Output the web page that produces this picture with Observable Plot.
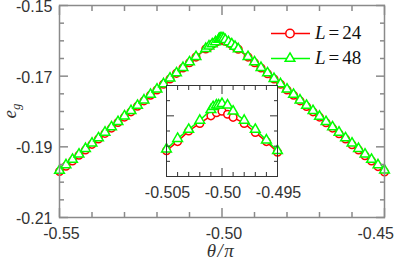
<!DOCTYPE html>
<html><head><meta charset="utf-8">
<script src="https://cdn.jsdelivr.net/npm/d3@7"></script>
<script src="https://cdn.jsdelivr.net/npm/@observablehq/plot@0.6"></script>
<style>
html,body{margin:0;padding:0;background:#fff;}
#wrap{position:relative;width:394px;height:265px;overflow:hidden;background:#fff;}
#inset{position:absolute;left:136px;top:80px;}
svg{overflow:visible;}
</style></head><body><div id="wrap"><div id="main"></div><div id="inset"></div></div>
<script>
// ---- data (theta/pi and ground-state energy e_g) ----
const thetaLeft = [-0.550,-0.548,-0.546,-0.544,-0.542,-0.540,-0.538,-0.536,-0.534,-0.532,-0.530,-0.528,-0.526,-0.524,-0.522,-0.520,-0.518,-0.516,-0.514,-0.512,-0.510,-0.508];
const thetaRight = [-0.492,-0.490,-0.488,-0.486,-0.484,-0.482,-0.480,-0.478,-0.476,-0.474,-0.472,-0.470,-0.468,-0.466,-0.464,-0.462,-0.460,-0.458,-0.456,-0.454,-0.452,-0.450];
const eLeft24 = [-0.1970,-0.1955,-0.1940,-0.1924,-0.1909,-0.1893,-0.1878,-0.1862,-0.1847,-0.1831,-0.1816,-0.1801,-0.1785,-0.1770,-0.1754,-0.1739,-0.1723,-0.1708,-0.1692,-0.1677,-0.1662,-0.1646];
const eRight24 = [-0.1646,-0.1662,-0.1677,-0.1693,-0.1708,-0.1723,-0.1739,-0.1754,-0.1770,-0.1786,-0.1801,-0.1816,-0.1832,-0.1847,-0.1863,-0.1878,-0.1894,-0.1909,-0.1925,-0.1940,-0.1956,-0.1971];
const eLeft48 = [-0.1967,-0.1951,-0.1936,-0.1921,-0.1905,-0.1890,-0.1875,-0.1859,-0.1844,-0.1829,-0.1813,-0.1798,-0.1783,-0.1768,-0.1752,-0.1737,-0.1722,-0.1706,-0.1691,-0.1676,-0.1660,-0.1645];
const eRight48 = [-0.1645,-0.1660,-0.1676,-0.1691,-0.1707,-0.1722,-0.1737,-0.1752,-0.1768,-0.1783,-0.1798,-0.1814,-0.1829,-0.1844,-0.1859,-0.1875,-0.1890,-0.1905,-0.1921,-0.1936,-0.1951,-0.1966];
const thetaPeak24 = [-0.505,-0.504,-0.503,-0.502,-0.501,-0.5005,-0.500,-0.4995,-0.499,-0.498,-0.497,-0.496,-0.495];
const ePeak24 = [-0.1623,-0.1617,-0.1610,-0.1605,-0.1600,-0.1598,-0.1597,-0.1599,-0.1601,-0.1605,-0.1611,-0.1617,-0.1624];
const thetaPeak48 = [-0.505,-0.504,-0.503,-0.502,-0.501,-0.5008,-0.5005,-0.5003,-0.500,-0.4995,-0.499,-0.498,-0.497,-0.496,-0.495];
const ePeak48 = [-0.1622,-0.1615,-0.1609,-0.1603,-0.1596,-0.1594,-0.1593,-0.1593,-0.1592,-0.1593,-0.1597,-0.1603,-0.1609,-0.1616,-0.1623];

const seriesNames = ["L = 24", "L = 48"];
const seriesColors = ["#ff0000", "#00ff00"];

// ---- ticks ----
const xMajor = [-0.55, -0.50, -0.45];
const xMinor = [-0.54,-0.53,-0.52,-0.51,-0.49,-0.48,-0.47,-0.46];
const yMajor = [-0.21, -0.19, -0.17, -0.15];
const yMinor = [-0.205,-0.200,-0.195,-0.185,-0.180,-0.175,-0.165,-0.160,-0.155];
const insetXMajor = [-0.505, -0.500, -0.495];
const insetXMinor = [-0.504,-0.503,-0.502,-0.501,-0.499,-0.498,-0.497,-0.496];
const insetYMajor = [-0.164, -0.160];
const insetYMinor = [-0.163,-0.162,-0.161,-0.159];

const rows = (ts, es) => ts.map((t, i) => ({t, e: es[i]}));
const d24 = [...rows(thetaLeft, eLeft24), ...rows(thetaPeak24, ePeak24), ...rows(thetaRight, eRight24)];
const d48 = [...rows(thetaLeft, eLeft48), ...rows(thetaPeak48, ePeak48), ...rows(thetaRight, eRight48)];
const p24 = rows(thetaPeak24, ePeak24);
const p48 = rows(thetaPeak48, ePeak48);

const blank = () => "";
function tickMarks(axisFn, anchor, values, size, stroke, sw) {
  return axisFn(values, {anchor, tickSize: -size, tickFormat: blank, stroke, strokeWidth: sw, label: null});
}
function seriesMarks(data24, data48) {
  return [
    Plot.line(data24, {x: "t", y: "e", stroke: seriesColors[0], strokeWidth: 1.5}),
    Plot.dot(data24, {x: "t", y: "e", r: 3.8, stroke: seriesColors[0], fill: "white", strokeWidth: 1.5}),
    Plot.line(data48, {x: "t", y: "e", stroke: seriesColors[1], strokeWidth: 1.5}),
    Plot.dot(data48, {x: "t", y: "e", r: 3.6, symbol: "triangle", stroke: seriesColors[1], fill: "white", strokeWidth: 1.5})
  ];
}
const fmt2 = d => d.toFixed(2);
const fmt3 = d => (Math.abs(d * 1000 - Math.round(d * 100) * 10) < 1e-6 ? d.toFixed(2) : d.toFixed(3));

const axisGray = "#8a8a8a";
const main = Plot.plot({
  width: 394, height: 265,
  marginLeft: 59, marginRight: 10, marginTop: 5, marginBottom: 48,
  x: {domain: [-0.55, -0.45], axis: null},
  y: {domain: [-0.21, -0.15], axis: null},
  style: {fontFamily: "Liberation Sans, Arial, sans-serif", fontSize: "16px", color: "#333", background: "transparent", overflow: "visible"},
  marks: [
    ...seriesMarks(d24, d48),
    Plot.frame({stroke: axisGray, strokeWidth: 1.5}),
    tickMarks(Plot.axisX, "bottom", xMinor, 5, axisGray, 1.5),
    tickMarks(Plot.axisX, "bottom", xMajor, 9, axisGray, 1.5),
    tickMarks(Plot.axisX, "top", xMinor, 5, axisGray, 1.5),
    tickMarks(Plot.axisX, "top", xMajor, 9, axisGray, 1.5),
    tickMarks(Plot.axisY, "left", yMinor, 5, axisGray, 1.5),
    tickMarks(Plot.axisY, "left", yMajor, 9, axisGray, 1.5),
    tickMarks(Plot.axisY, "right", yMinor, 5, axisGray, 1.5),
    tickMarks(Plot.axisY, "right", yMajor, 9, axisGray, 1.5),
    Plot.axisX(xMajor.slice(0, 2), {anchor: "bottom", tickSize: 0, tickPadding: 10, tickFormat: fmt2, fontSize: 16, fill: "#333", dx: 2, label: null}),
    Plot.axisX(xMajor.slice(2), {anchor: "bottom", tickSize: 0, tickPadding: 10, tickFormat: fmt2, fontSize: 16, fill: "#333", textAnchor: "end", dx: 9.5, label: null}),
    Plot.axisY(yMajor, {anchor: "left", tickSize: 0, tickPadding: 7, tickFormat: fmt2, fontSize: 16, fill: "#333", dy: 1.5, label: null})
  ]
});
document.getElementById("main").appendChild(main);

const inset = Plot.plot({
  width: 171, height: 126,
  marginLeft: 30, marginRight: 30, marginTop: 5, marginBottom: 30,
  x: {domain: [-0.505, -0.495], axis: null},
  y: {domain: [-0.164, -0.158], axis: null},
  style: {fontFamily: "Liberation Sans, Arial, sans-serif", fontSize: "16px", color: "#333", background: "transparent", overflow: "visible"},
  marks: [
    Plot.frame({fill: "white"}),
    ...seriesMarks(p24, p48),
    Plot.frame({stroke: "#333", strokeWidth: 1}),
    tickMarks(Plot.axisX, "bottom", insetXMinor, 4, "#333", 1),
    tickMarks(Plot.axisX, "bottom", insetXMajor, 8, "#333", 1),
    tickMarks(Plot.axisX, "top", insetXMinor, 4, "#333", 1),
    tickMarks(Plot.axisX, "top", insetXMajor, 8, "#333", 1),
    tickMarks(Plot.axisY, "left", insetYMinor, 4, "#333", 1),
    tickMarks(Plot.axisY, "left", insetYMajor, 8, "#333", 1),
    tickMarks(Plot.axisY, "right", insetYMinor, 4, "#333", 1),
    tickMarks(Plot.axisY, "right", insetYMajor, 8, "#333", 1),
    Plot.axisX(insetXMajor, {anchor: "bottom", tickSize: 0, tickPadding: 10, tickFormat: fmt3, fontSize: 16, fill: "#333", dx: 1, label: null})
  ]
});
document.getElementById("inset").appendChild(inset);

// ---- axis titles and legend ----
const svg = d3.select(main);
const serif = "Liberation Serif, Times New Roman, serif";
const yTitle = svg.append("text")
  .attr("transform", "translate(16,111) rotate(-90)")
  .attr("text-anchor", "middle")
  .attr("font-family", serif).attr("font-style", "italic").attr("font-size", 19).attr("fill", "#333");
yTitle.append("tspan").text("e");
yTitle.append("tspan").attr("dy", 4).attr("font-size", 13).text("g");

svg.append("text")
  .attr("x", 221).attr("y", 257)
  .attr("text-anchor", "middle")
  .attr("font-family", serif).attr("font-style", "italic").attr("font-size", 19)
  .attr("letter-spacing", 1.5).attr("fill", "#333")
  .text("θ/π");

const leg = svg.append("g");
const legY = [33.5, 58.5];
seriesNames.forEach((name, i) => {
  const y = legY[i];
  leg.append("line").attr("x1", 271).attr("x2", 310).attr("y1", y).attr("y2", y)
    .attr("stroke", seriesColors[i]).attr("stroke-width", 1.5);
  if (i === 0) {
    leg.append("circle").attr("cx", 290).attr("cy", y).attr("r", 4.2)
      .attr("fill", "white").attr("stroke", seriesColors[i]).attr("stroke-width", 1.5);
  } else {
    leg.append("path").attr("transform", `translate(290,${y})`)
      .attr("d", d3.symbol(d3.symbolTriangle, 3.6 * 3.6 * Math.PI)())
      .attr("fill", "white").attr("stroke", seriesColors[i]).attr("stroke-width", 1.5);
  }
  const t = leg.append("text").attr("x", 315).attr("y", y + 5.5)
    .attr("text-anchor", "start")
    .attr("font-family", serif).attr("font-size", 19).attr("fill", "#111");
  const parts = name.split(" = ");
  t.append("tspan").attr("font-style", "italic").text(parts[0]);
  t.append("tspan").attr("dx", 3).text("=");
  t.append("tspan").attr("dx", 3).text(parts[1]);
});
</script></body></html>
